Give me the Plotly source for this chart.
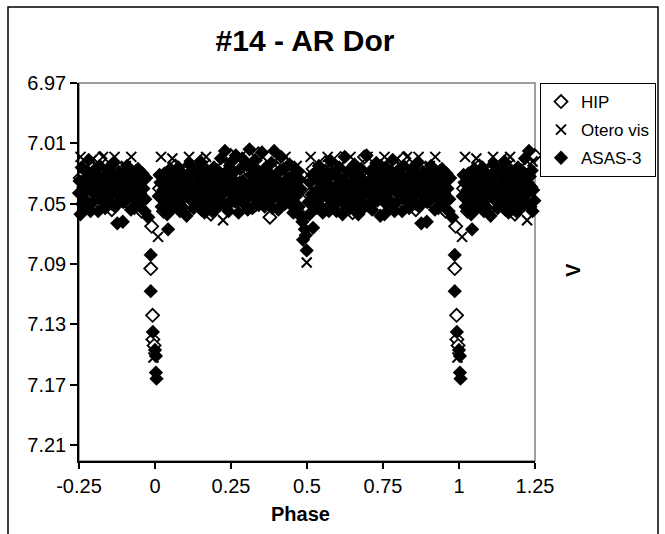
import plotly.graph_objects as go

# ---------------- data (phase in [0,1), V magnitude) ----------------
asas_phase = [0.012,0.018,0.022,0.027,0.031,0.036,0.040,0.046,0.050,0.055,0.059,0.064,0.068,0.073,0.077,0.082,0.086,0.091,0.095,0.100,
              0.104,0.109,0.113,0.118,0.122,0.127,0.131,0.136,0.140,0.145,0.149,0.154,0.158,0.163,0.167,0.172,0.176,0.181,0.185,0.190,
              0.194,0.199,0.203,0.208,0.212,0.217,0.221,0.226,0.230,0.235,0.239,0.244,0.248,0.253,0.257,0.262,0.266,0.271,0.275,0.280,
              0.284,0.289,0.293,0.298,0.302,0.307,0.311,0.316,0.320,0.325,0.329,0.334,0.338,0.343,0.347,0.352,0.356,0.361,0.365,0.370,
              0.374,0.379,0.383,0.388,0.392,0.397,0.401,0.406,0.410,0.415,0.419,0.424,0.428,0.433,0.437,0.442,0.446,0.451,0.455,0.460,
              0.464,0.469,0.473,0.478,0.482,0.487,0.493,0.499,0.520,0.496,0.505,0.510,0.515,0.525,0.530,0.534,0.539,0.543,0.548,0.552,
              0.557,0.561,0.566,0.570,0.575,0.579,0.584,0.588,0.593,0.597,0.602,0.606,0.611,0.615,0.620,0.624,0.629,0.633,0.638,0.642,
              0.647,0.651,0.656,0.660,0.665,0.669,0.674,0.678,0.683,0.687,0.692,0.696,0.701,0.705,0.710,0.714,0.719,0.723,0.728,0.732,
              0.737,0.741,0.746,0.750,0.755,0.759,0.764,0.768,0.773,0.777,0.782,0.786,0.791,0.795,0.800,0.804,0.809,0.813,0.818,0.822,
              0.827,0.831,0.836,0.840,0.845,0.849,0.854,0.858,0.863,0.867,0.872,0.876,0.881,0.885,0.890,0.894,0.899,0.903,0.908,0.912,
              0.917,0.921,0.926,0.930,0.935,0.939,0.944,0.948,0.953,0.957,0.962,0.966,0.971,0.978,
              0.986,0.986,0.993,0.000,0.003,0.003,0.005,0.043,
              0.015,0.025,0.034,0.043,0.052,0.062,0.071,0.080,0.089,0.098,0.107,0.116,0.125,0.134,0.143,0.152,0.161,0.170,0.179,0.188,
              0.197,0.206,0.215,0.224,0.233,0.242,0.251,0.260,0.269,0.278,0.287,0.296,0.305,0.314,0.323,0.332,0.341,0.350,0.359,0.368,
              0.377,0.386,0.395,0.404,0.413,0.422,0.431,0.440,0.449,0.458,0.467,0.476,0.485,0.508,0.518,0.527,0.536,0.545,0.554,0.563,
              0.572,0.581,0.590,0.599,0.608,0.617,0.626,0.635,0.644,0.653,0.662,0.671,0.680,0.689,0.698,0.707,0.716,0.725,0.734,0.743,
              0.752,0.761,0.770,0.779,0.788,0.797,0.806,0.815,0.824,0.833,0.842,0.851,0.860,0.869,0.878,0.887,0.896,0.905,0.914,0.923,
              0.932,0.941,0.950,0.959,0.968]
asas_v = [7.045,7.036,7.052,7.041,7.030,7.048,7.057,7.038,7.027,7.044,7.053,7.033,7.040,7.049,7.026,7.055,7.037,7.046,7.031,7.042,
          7.058,7.035,7.024,7.047,7.039,7.053,7.029,7.044,7.036,7.050,7.022,7.041,7.033,7.056,7.045,7.028,7.038,7.051,7.034,7.043,
          7.026,7.054,7.039,7.047,7.031,7.020,7.044,7.036,7.015,7.052,7.028,7.041,7.048,7.022,7.034,7.045,7.018,7.039,7.056,7.027,
          7.043,7.035,7.050,7.024,7.038,7.046,7.014,7.031,7.053,7.040,7.021,7.047,7.035,7.029,7.044,7.016,7.037,7.052,7.026,7.042,
          7.033,7.048,7.023,7.039,7.015,7.045,7.030,7.054,7.036,7.019,7.043,7.027,7.050,7.034,7.041,7.024,7.047,7.032,7.056,7.038,
          7.045,7.029,7.052,7.040,7.059,7.074,7.067,7.081,7.066,7.071,7.049,7.036,7.044,7.030,7.053,7.041,7.025,7.047,7.035,7.056,
          7.038,7.028,7.045,7.033,7.051,7.022,7.040,7.047,7.031,7.055,7.037,7.026,7.043,7.034,7.050,7.019,7.039,7.046,7.028,7.053,
          7.036,7.042,7.024,7.048,7.032,7.057,7.040,7.027,7.045,7.035,7.051,7.018,7.038,7.044,7.029,7.054,7.033,7.041,7.023,7.048,
          7.036,7.058,7.030,7.043,7.057,7.026,7.039,7.047,7.033,7.052,7.021,7.041,7.035,7.049,7.028,7.044,7.037,7.055,7.025,7.040,
          7.048,7.032,7.053,7.038,7.027,7.045,7.034,7.050,7.023,7.042,7.036,7.063,7.029,7.046,7.039,7.062,7.031,7.048,7.025,7.043,
          7.037,7.054,7.030,7.046,7.038,7.051,7.027,7.044,7.035,7.049,7.040,7.055,7.033,7.059,
          7.084,7.108,7.135,7.147,7.151,7.162,7.166,7.067,
          7.031,7.047,7.055,7.034,7.050,7.041,7.030,7.046,7.052,7.035,7.045,7.031,7.049,7.037,7.027,7.054,7.040,7.048,7.030,7.055,
          7.037,7.028,7.049,7.041,7.032,7.055,7.038,7.029,7.049,7.036,7.020,7.044,7.054,7.039,7.027,7.043,7.051,7.033,7.041,7.048,
          7.030,7.053,7.037,7.044,7.028,7.050,7.039,7.033,7.051,7.026,7.043,7.034,7.062,7.057,7.031,7.046,7.034,7.052,7.043,7.036,
          7.055,7.030,7.042,7.048,7.034,7.057,7.044,7.029,7.038,7.050,7.041,7.031,7.054,7.043,7.036,7.051,7.027,7.047,7.039,7.025,
          7.035,7.050,7.041,7.029,7.055,7.037,7.030,7.046,7.034,7.042,7.051,7.028,7.040,7.052,7.033,7.041,7.049,7.036,7.030,7.045,
          7.053,7.034,7.041,7.030,7.047]

hip_phase = [0.015,0.028,0.041,0.054,0.067,0.080,0.093,0.106,0.119,0.132,0.145,0.158,0.171,0.184,0.197,0.210,0.223,0.236,0.249,0.262,
             0.275,0.288,0.301,0.314,0.327,0.340,0.353,0.366,0.378,0.391,0.404,0.417,0.430,0.443,0.456,0.469,0.482,0.507,0.520,0.533,
             0.546,0.559,0.572,0.585,0.598,0.611,0.624,0.637,0.650,0.663,0.676,0.689,0.702,0.715,0.728,0.741,0.754,0.767,0.780,0.793,
             0.806,0.819,0.832,0.845,0.858,0.871,0.884,0.897,0.910,0.923,0.936,0.949,0.956,0.989,0.986,0.992,0.993,0.997]
hip_v = [7.040,7.055,7.032,7.047,7.025,7.043,7.036,7.052,7.029,7.045,7.038,7.021,7.049,7.057,7.033,7.044,7.026,7.039,7.018,7.048,
         7.030,7.042,7.024,7.051,7.035,7.017,7.046,7.038,7.059,7.028,7.043,7.021,7.049,7.034,7.041,7.055,7.031,7.044,7.027,7.050,
         7.036,7.023,7.046,7.032,7.053,7.020,7.041,7.035,7.056,7.028,7.044,7.019,7.038,7.049,7.026,7.042,7.033,7.051,7.024,7.045,
         7.037,7.020,7.048,7.031,7.054,7.039,7.027,7.046,7.035,7.052,7.029,7.043,7.055,7.065,7.093,7.124,7.140,7.144]

otero_phase = [0.010,0.020,0.038,0.057,0.075,0.094,0.112,0.131,0.149,0.168,0.186,0.205,0.224,0.242,0.261,0.280,0.298,0.317,0.336,0.354,
               0.373,0.392,0.410,0.429,0.447,0.466,0.499,0.512,0.531,0.549,0.568,0.587,0.605,0.624,0.643,0.661,0.680,0.699,0.717,0.736,
               0.755,0.773,0.792,0.811,0.829,0.848,0.867,0.885,0.904,0.922,0.941,0.951,0.995]
otero_v = [7.072,7.019,7.043,7.020,7.050,7.031,7.019,7.046,7.027,7.019,7.041,7.035,7.061,7.022,7.044,7.019,7.037,7.052,7.024,7.019,
           7.040,7.031,7.048,7.019,7.036,7.025,7.089,7.019,7.042,7.030,7.019,7.047,7.026,7.038,7.019,7.053,7.033,7.019,7.045,7.028,
           7.019,7.040,7.021,7.049,7.019,7.034,7.019,7.043,7.025,7.019,7.037,7.050,7.152]

x_ticks = [-0.25, 0, 0.25, 0.5, 0.75, 1, 1.25]
x_ticklabels = ["-0.25", "0", "0.25", "0.5", "0.75", "1", "1.25"]
y_ticks = [6.97, 7.01, 7.05, 7.09, 7.13, 7.17, 7.21]
y_ticklabels = ["6.97", "7.01", "7.05", "7.09", "7.13", "7.17", "7.21"]


def fold(ph, v):
    """Repeat phased points over the plotted range -0.25 .. 1.25."""
    xs, ys = [], []
    for p, m in zip(ph, v):
        xs.append(p); ys.append(m)
        if p >= 0.75:
            xs.append(p - 1); ys.append(m)
        if p < 0.25:
            xs.append(p + 1); ys.append(m)
    return xs, ys


FONT = "Liberation Sans, Arial, sans-serif"
W, H = 665, 534
L, R, T, B = 79, 130, 83, 73
PW, PH = W - L - R, H - T - B

fig = go.Figure()
ax, ay = fold(asas_phase, asas_v)
hx, hy = fold(hip_phase, hip_v)
ox, oy = fold(otero_phase, otero_v)

fig.add_trace(go.Scatter(x=hx, y=hy, mode="markers", name="HIP", legendrank=1, cliponaxis=False,
                         legendgroup="a",
                         marker=dict(symbol="diamond", size=10, color="white", line=dict(width=1.8, color="black"))))
fig.add_trace(go.Scatter(x=ox, y=oy, mode="markers", name="Otero vis", legendrank=2, cliponaxis=False,
                         legendgroup="b",
                         marker=dict(symbol="x-thin", size=10, color="black", line=dict(width=2, color="black"))))
fig.add_trace(go.Scatter(x=ax, y=ay, mode="markers", name="ASAS-3", legendrank=3, cliponaxis=False,
                         legendgroup="c",
                         marker=dict(symbol="diamond", size=11, color="black", line=dict(width=0))))

fig.update_layout(
    width=W, height=H, autosize=False,
    margin=dict(l=L, r=R, t=T, b=B, pad=0, autoexpand=False),
    paper_bgcolor="white", plot_bgcolor="white",
    font=dict(family=FONT, color="black"),
    title=dict(text="<b>#14 - AR Dor</b>", font=dict(size=30, family=FONT, color="black"),
               x=305 / W, xanchor="center", xref="container",
               y=1 - 40 / H, yanchor="middle", yref="container"),
    showlegend=True,
    legend=dict(x=(540 - L) / PW, y=1, xanchor="left", yanchor="top",
                bordercolor="black", borderwidth=1, bgcolor="white",
                font=dict(size=17, family=FONT, color="black"),
                tracegroupgap=3, itemsizing="trace"),
    xaxis=dict(range=[-0.25, 1.25], tickmode="array", tickvals=x_ticks, ticktext=x_ticklabels,
               showgrid=False, zeroline=False, showline=True, linecolor="black", linewidth=1.5,
               ticks="outside", ticklen=6, tickcolor="black", tickwidth=1.5,
               tickfont=dict(size=20, family=FONT, color="black")),
    yaxis=dict(range=[7.2206, 6.97], tickmode="array", tickvals=y_ticks, ticktext=y_ticklabels,
               showgrid=False, zeroline=False, showline=True, linecolor="black", linewidth=1.5,
               ticks="outside", ticklen=7, tickcolor="black", tickwidth=1.5,
               tickfont=dict(size=20, family=FONT, color="black")),
    shapes=[
        dict(type="rect", xref="paper", yref="paper", x0=0, x1=1, y0=0, y1=1,
             line=dict(color="#808080", width=1.5), layer="below"),
        dict(type="rect", xref="paper", yref="paper",
             x0=(8 - L) / PW, x1=(658 - L) / PW, y0=-0.4, y1=(H - B - 7) / PH,
             line=dict(color="black", width=1.5), layer="below"),
    ],
    annotations=[
        dict(text="<b>Phase</b>", xref="paper", yref="paper", x=(300 - L) / PW, y=(H - B - 514) / PH,
             xanchor="center", yanchor="middle", showarrow=False,
             font=dict(size=20, family=FONT, color="black")),
        dict(text="<b>V</b>", xref="paper", yref="paper", x=(573 - L) / PW, y=(H - B - 270) / PH,
             xanchor="center", yanchor="middle", showarrow=False, textangle=-90,
             font=dict(size=20, family=FONT, color="black")),
    ],
)

fig.write_html("out.html")
